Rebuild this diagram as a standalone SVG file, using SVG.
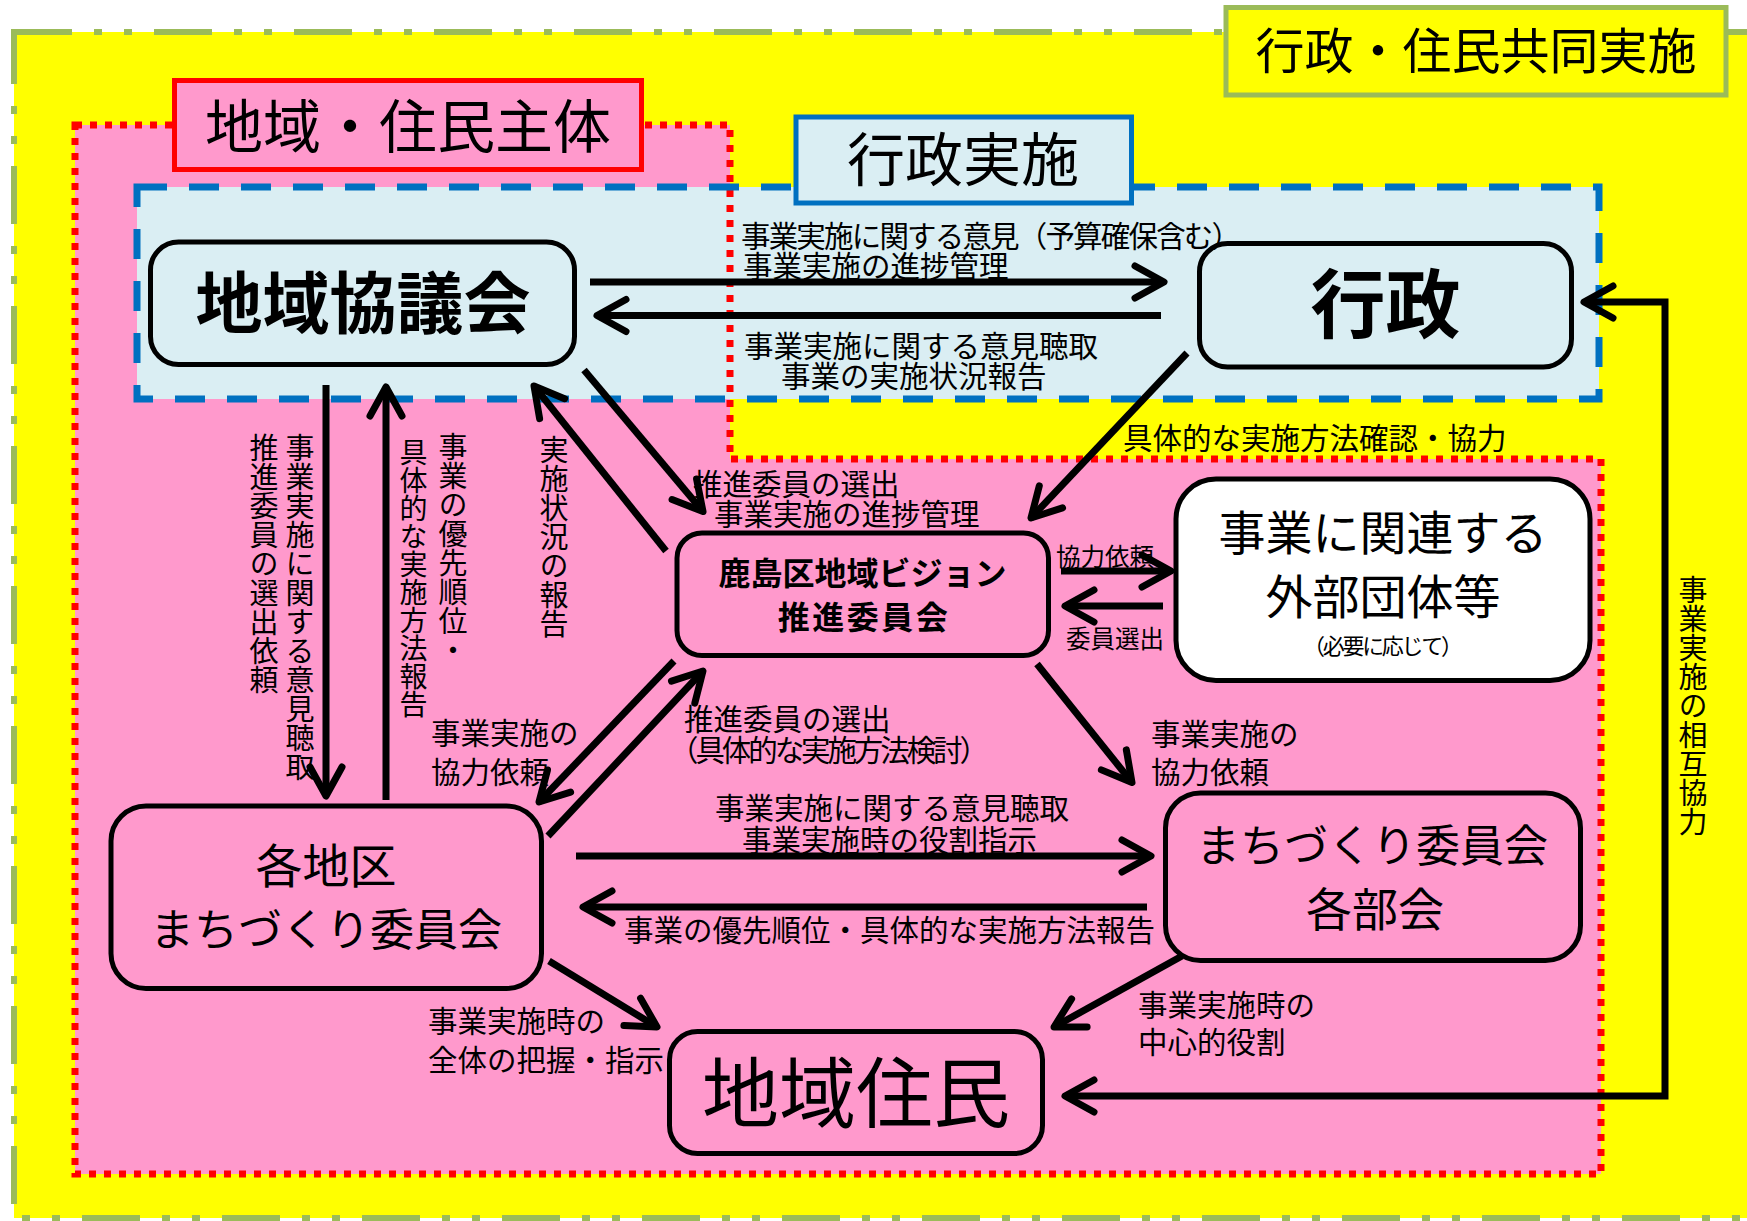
<svg xmlns="http://www.w3.org/2000/svg" width="1747" height="1221" viewBox="0 0 1747 1221">
<defs>
<style>
text { font-family: 'Liberation Sans','Noto Sans CJK JP',sans-serif; fill:#000; }
.lbl { font-size:29.5px; }
.sm { font-size:24.5px; }
.vt { font-size:29px; writing-mode:vertical-rl; }
.node { stroke:#000; stroke-width:5; }
.pink { fill:#FF99CC; }
.lblue { fill:#DAEEF3; }
.conn { fill:none; stroke:#000; stroke-width:7; stroke-linejoin:miter; }
.ttl { font-size:58px; text-anchor:middle; }
.mid { text-anchor:middle; }
</style>
<marker id="ah" markerUnits="userSpaceOnUse" viewBox="-40 -25 50 50" markerWidth="50" markerHeight="50" refX="0" refY="0" orient="auto-start-reverse">
<path d="M -29 -16 L 0 0 L -29 16" fill="none" stroke="#000" stroke-width="7" stroke-linecap="round" stroke-linejoin="round"/>
</marker>
</defs>
<rect width="1747" height="1221" fill="#FFFFFF"/>
<g id="regions">
<rect x="14" y="32" width="1780" height="1186" fill="#FFFF00" stroke="#9BBB59" stroke-width="6" stroke-dasharray="58 22 8 22 8 22"/>
<path d="M75 125 H730 V459 H1601 V1174 H75 Z" fill="#FF99CC"/>
<rect x="137" y="187" width="1462" height="212" fill="#DAEEF3"/>
<path d="M75 125 H730 V459 H1601 V1174 H75 Z" fill="none" stroke="#FF0000" stroke-width="7" stroke-dasharray="7 8"/>
<rect x="137" y="187" width="1462" height="212" fill="none" stroke="#0070C0" stroke-width="7" stroke-dasharray="30 22"/>
</g>
<g id="title-joint">
<rect x="1226" y="7.5" width="500" height="87.5" fill="#FFFF00" stroke="#9BBB59" stroke-width="5"/>
<text class="ttl" x="1476" y="69" style="font-size:49px">行政・住民共同実施</text>
</g>
<g id="title-resident">
<rect x="174.5" y="80.5" width="467" height="89" fill="#FF99CC" stroke="#FF0000" stroke-width="5"/>
<text class="ttl" x="408" y="148">地域・住民主体</text>
</g>
<g id="title-admin">
<rect x="796" y="117" width="335.5" height="86" fill="#DAEEF3" stroke="#0070C0" stroke-width="5"/>
<text class="ttl" x="963" y="181">行政実施</text>
</g>
<g id="node-kyogikai">
<rect class="node lblue" x="150.5" y="242" width="424" height="122.5" rx="28"/>
<text class="mid" x="363" y="328" style="font-size:67px;font-weight:bold">地域協議会</text>
</g>
<g id="node-gyosei">
<rect class="node lblue" x="1199.5" y="243.5" width="372" height="123.5" rx="28"/>
<text class="mid" x="1385.5" y="332" style="font-size:75px;font-weight:bold">行政</text>
</g>
<g id="node-suishin">
<rect class="node pink" x="677" y="533" width="371.5" height="122.5" rx="25"/>
<text class="mid" x="862.5" y="585" style="font-size:32px;font-weight:bold">鹿島区地域ビジョン</text>
<text class="mid" x="864" y="629" style="font-size:32px;font-weight:bold;letter-spacing:2.5px">推進委員会</text>
</g>
<g id="node-gaibu">
<rect class="node" fill="#FFFFFF" x="1176" y="479" width="414" height="201.5" rx="40"/>
<text class="mid" x="1383" y="550" style="font-size:47px">事業に関連する</text>
<text class="mid" x="1383" y="614" style="font-size:47px">外部団体等</text>
<text class="mid" x="1383" y="654" style="font-size:22px" textLength="160" lengthAdjust="spacing">（必要に応じて）</text>
</g>
<g id="node-kakuchiku">
<rect class="node pink" x="111" y="806" width="430.5" height="182.5" rx="35"/>
<text class="mid" x="326" y="883" style="font-size:47px">各地区</text>
<text class="mid" x="326" y="946" style="font-size:44px">まちづくり委員会</text>
</g>
<g id="node-bukai">
<rect class="node pink" x="1165.5" y="793" width="415" height="167.5" rx="35"/>
<text class="mid" x="1372" y="862" style="font-size:44px">まちづくり委員会</text>
<text class="mid" x="1375" y="926" style="font-size:46px">各部会</text>
</g>
<g id="node-jumin">
<rect class="node pink" x="669.5" y="1031.5" width="373" height="122" rx="28"/>
<text class="mid" x="856" y="1122" style="font-size:77px">地域住民</text>
</g>
<g id="connectors">
<path class="conn" d="M590 282 H1164" marker-end="url(#ah)"/>
<path class="conn" d="M1161 315.5 H597" marker-end="url(#ah)"/>
<path class="conn" d="M326 385 V796" marker-end="url(#ah)"/>
<path class="conn" d="M386 800 V387" marker-end="url(#ah)"/>
<path class="conn" d="M666 551 L534 386" marker-end="url(#ah)"/>
<path class="conn" d="M584 370 L703 511.5" marker-end="url(#ah)"/>
<path class="conn" d="M1187 353 L1031 518" marker-end="url(#ah)"/>
<path class="conn" d="M1061 571 H1171" marker-end="url(#ah)"/>
<path class="conn" d="M1163 606 H1065" marker-end="url(#ah)"/>
<path class="conn" d="M674 661 L539 802" marker-end="url(#ah)"/>
<path class="conn" d="M548 836 L703 671" marker-end="url(#ah)"/>
<path class="conn" d="M1037 664 L1132 782.5" marker-end="url(#ah)"/>
<path class="conn" d="M576 856 H1151" marker-end="url(#ah)"/>
<path class="conn" d="M1147 907 H583" marker-end="url(#ah)"/>
<path class="conn" d="M549 961 L657 1027" marker-end="url(#ah)"/>
<path class="conn" d="M1182 956 L1054 1027" marker-end="url(#ah)"/>
<path class="conn" d="M1584 302 H1665 V1096 H1065" marker-start="url(#ah)" marker-end="url(#ah)"/>
</g>
<g id="labels">
<text class="lbl" x="741" y="247" textLength="500" lengthAdjust="spacing">事業実施に関する意見（予算確保含む）</text>
<text class="lbl" x="743" y="277">事業実施の進捗管理</text>
<text class="lbl" x="744" y="357">事業実施に関する意見聴取</text>
<text class="lbl" x="781" y="387">事業の実施状況報告</text>
<text class="lbl" x="1123" y="449">具体的な実施方法確認・協力</text>
<text class="lbl" x="693" y="495">推進委員の選出</text>
<text class="lbl" x="714" y="525">事業実施の進捗管理</text>
<text class="sm" x="1056" y="566">協力依頼</text>
<text class="sm" x="1066" y="648">委員選出</text>
<text class="lbl" x="431" y="744">事業実施の</text>
<text class="lbl" x="431" y="783">協力依頼</text>
<text class="lbl" x="684" y="730">推進委員の選出</text>
<text class="lbl" x="669" y="761" textLength="320" lengthAdjust="spacing">（具体的な実施方法検討）</text>
<text class="lbl" x="715" y="819">事業実施に関する意見聴取</text>
<text class="lbl" x="742" y="851">事業実施時の役割指示</text>
<text class="lbl" x="1151" y="745">事業実施の</text>
<text class="lbl" x="1151" y="783">協力依頼</text>
<text class="lbl" x="624" y="941">事業の優先順位・具体的な実施方法報告</text>
<text class="lbl" x="428" y="1032">事業実施時の</text>
<text class="lbl" x="428" y="1071">全体の把握・指示</text>
<text class="lbl" x="1138" y="1016">事業実施時の</text>
<text class="lbl" x="1138" y="1053">中心的役割</text>
<text class="vt" x="297" y="433">事業実施に関する意見聴取</text>
<text class="vt" x="261" y="433">推進委員の選出依頼</text>
<text class="vt" x="450" y="432">事業の優先順位・</text>
<text class="vt" x="411" y="438" style="font-size:28px">具体的な実施方法報告</text>
<text class="vt" x="551" y="435">実施状況の報告</text>
<text class="vt" x="1690" y="575">事業実施の相互協力</text>
</g>
</svg>
